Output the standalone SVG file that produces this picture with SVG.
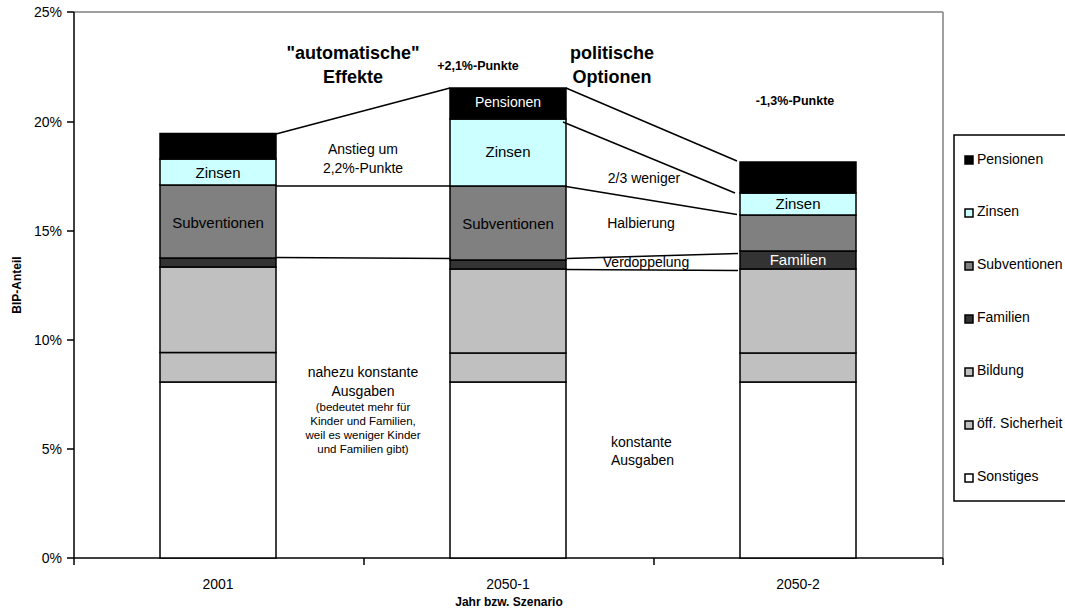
<svg xmlns="http://www.w3.org/2000/svg" width="1065" height="612" viewBox="0 0 1065 612">
<style>
text{font-family:"Liberation Sans",Arial,sans-serif;fill:#000}
.seg{stroke:#000;stroke-width:1.5}
.pen{fill:#000}.zin{fill:#CCFFFF}.sub{fill:#808080}.fam{fill:#333333}.bil{fill:#C0C0C0}.sic{fill:#C0C0C0}.son{fill:#fff}
.lbl{font-size:15px;text-anchor:middle}
.wl{fill:#fff}
.ann{font-size:14px;text-anchor:middle}
.small{font-size:11.5px;text-anchor:middle}
.ttl{font-size:18px;font-weight:bold;text-anchor:middle}
.pts{font-size:12.5px;font-weight:bold;text-anchor:middle}
.tick{font-size:14px;text-anchor:end}
.xl{font-size:14px;text-anchor:middle}
.axt{font-size:12px;font-weight:bold;text-anchor:middle}
.leg{font-size:14px}
.conn line{stroke:#000;stroke-width:1.5}
.ax{stroke:#000;stroke-width:1.5}
</style>
<rect x="0" y="0" width="1065" height="612" fill="#fff"/>
<g id="plotarea">
<line x1="74" y1="12" x2="943" y2="12" stroke="#808080" stroke-width="1.5"/>
<line x1="943" y1="12" x2="943" y2="558" stroke="#808080" stroke-width="1.5"/>
</g>
<g id="axes">
<line class="ax" x1="74" y1="12" x2="74" y2="565"/>
<line class="ax" x1="74" y1="558" x2="943" y2="558"/>
<line class="ax" x1="67" y1="12" x2="74" y2="12"/>
<line class="ax" x1="67" y1="122" x2="74" y2="122"/>
<line class="ax" x1="67" y1="231" x2="74" y2="231"/>
<line class="ax" x1="67" y1="340" x2="74" y2="340"/>
<line class="ax" x1="67" y1="449" x2="74" y2="449"/>
<line class="ax" x1="67" y1="558" x2="74" y2="558"/>
<line class="ax" x1="364" y1="558" x2="364" y2="565"/>
<line class="ax" x1="654" y1="558" x2="654" y2="565"/>
<line class="ax" x1="943" y1="558" x2="943" y2="565"/>
<text class="tick" x="62" y="17">25%</text>
<text class="tick" x="62" y="127">20%</text>
<text class="tick" x="62" y="236">15%</text>
<text class="tick" x="62" y="345">10%</text>
<text class="tick" x="62" y="454">5%</text>
<text class="tick" x="62" y="563">0%</text>
<text class="xl" x="218" y="589">2001</text>
<text class="xl" x="508" y="589">2050-1</text>
<text class="xl" x="798" y="589">2050-2</text>
<text class="axt" x="509" y="606">Jahr bzw. Szenario</text>
<text class="axt" transform="translate(21,285) rotate(-90)">BIP-Anteil</text>
</g>
<g id="bar-2001">
<rect class="seg son" x="160" y="382" width="116" height="176"/>
<rect class="seg sic" x="160" y="352.5" width="116" height="29.5"/>
<rect class="seg bil" x="160" y="267" width="116" height="85.5"/>
<rect class="seg fam" x="160" y="258" width="116" height="9"/>
<rect class="seg sub" x="160" y="185" width="116" height="73"/>
<rect class="seg zin" x="160" y="159" width="116" height="26"/>
<rect class="seg pen" x="160" y="133.5" width="116" height="25.5"/>
<text class="lbl" x="218" y="178">Zinsen</text>
<text class="lbl" x="218" y="228">Subventionen</text>
</g>
<g id="bar-2050-1">
<rect class="seg son" x="450" y="382" width="116" height="176"/>
<rect class="seg sic" x="450" y="353" width="116" height="29"/>
<rect class="seg bil" x="450" y="269" width="116" height="84"/>
<rect class="seg fam" x="450" y="260" width="116" height="9"/>
<rect class="seg sub" x="450" y="186" width="116" height="74"/>
<rect class="seg zin" x="450" y="119" width="116" height="67"/>
<rect class="seg pen" x="450" y="88" width="116" height="31"/>
<text class="ann wl" x="508" y="107">Pensionen</text>
<text class="lbl" x="508" y="157">Zinsen</text>
<text class="lbl" x="508" y="229">Subventionen</text>
</g>
<g id="bar-2050-2">
<rect class="seg son" x="740" y="382" width="116" height="176"/>
<rect class="seg sic" x="740" y="353" width="116" height="29"/>
<rect class="seg bil" x="740" y="269" width="116" height="84"/>
<rect class="seg fam" x="740" y="251" width="116" height="18"/>
<rect class="seg sub" x="740" y="215" width="116" height="36"/>
<rect class="seg zin" x="740" y="193" width="116" height="22"/>
<rect class="seg pen" x="740" y="162" width="116" height="31"/>
<text class="lbl" x="798" y="209">Zinsen</text>
<text class="lbl wl" x="798" y="265">Familien</text>
</g>
<g id="connectors" class="conn">
<line x1="276" y1="134" x2="450" y2="88"/>
<line x1="276" y1="186" x2="450" y2="186"/>
<line x1="276" y1="257.5" x2="451" y2="258.5"/>
<line x1="566" y1="88" x2="737" y2="161"/>
<line x1="563" y1="122" x2="735" y2="193"/>
<line x1="566" y1="186.5" x2="737" y2="214.5"/>
<line x1="567" y1="258.5" x2="738" y2="253.5"/>
<line x1="566" y1="269.5" x2="738" y2="270.5"/>
</g>
<g id="annotations">
<text class="ttl" x="353" y="59">"automatische"</text>
<text class="ttl" x="353" y="83">Effekte</text>
<text class="pts" x="478" y="70">+2,1%-Punkte</text>
<text class="ttl" x="612" y="59">politische</text>
<text class="ttl" x="612" y="83">Optionen</text>
<text class="pts" x="795" y="105">-1,3%-Punkte</text>
<text class="ann" x="363" y="154">Anstieg um</text>
<text class="ann" x="363" y="173">2,2%-Punkte</text>
<text class="ann" x="644" y="183">2/3 weniger</text>
<text class="ann" x="641" y="228">Halbierung</text>
<text class="ann" x="646" y="267">Verdoppelung</text>
<text class="ann" x="363" y="377">nahezu konstante</text>
<text class="ann" x="363" y="396">Ausgaben</text>
<text class="small" x="363" y="411">(bedeutet mehr für</text>
<text class="small" x="363" y="425">Kinder und Familien,</text>
<text class="small" x="363" y="438.5">weil es weniger Kinder</text>
<text class="small" x="363" y="453">und Familien gibt)</text>
<text class="ann" x="611" y="447" text-anchor="start" style="text-anchor:start">konstante</text>
<text class="ann" x="611" y="465" style="text-anchor:start">Ausgaben</text>
</g>
<g id="legend">
<rect x="954" y="135" width="120" height="366" fill="#fff" stroke="#000" stroke-width="1.5"/>
<rect class="seg pen" x="965" y="156" width="8" height="8" stroke-width="1"/>
<text class="leg" x="977" y="164">Pensionen</text>
<rect class="seg zin" x="965" y="209" width="8" height="8" stroke-width="1"/>
<text class="leg" x="977" y="216">Zinsen</text>
<rect class="seg sub" x="965" y="262" width="8" height="8" stroke-width="1"/>
<text class="leg" x="977" y="269">Subventionen</text>
<rect class="seg fam" x="965" y="315" width="8" height="8" stroke-width="1"/>
<text class="leg" x="977" y="322">Familien</text>
<rect class="seg bil" x="965" y="368" width="8" height="8" stroke-width="1"/>
<text class="leg" x="977" y="375">Bildung</text>
<rect class="seg sic" x="965" y="421" width="8" height="8" stroke-width="1"/>
<text class="leg" x="977" y="428">öff. Sicherheit</text>
<rect class="seg son" x="965" y="474" width="8" height="8" stroke-width="1"/>
<text class="leg" x="977" y="481">Sonstiges</text>
</g>
</svg>
